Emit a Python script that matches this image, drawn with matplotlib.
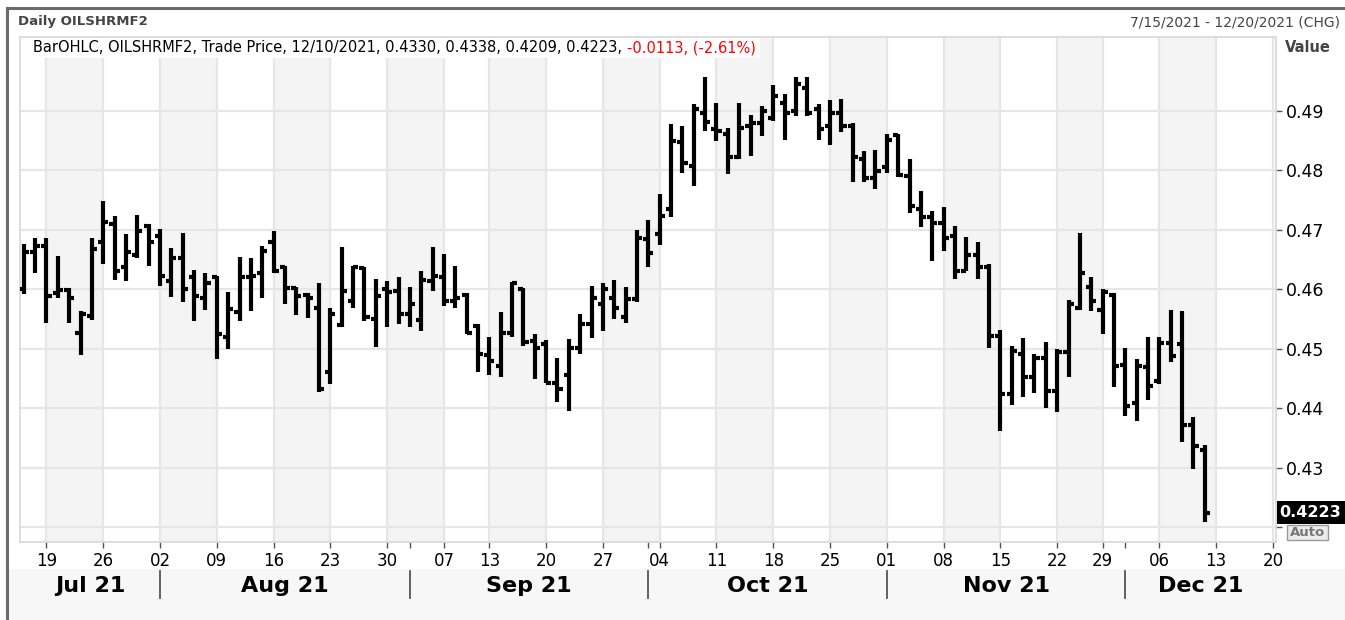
import matplotlib
matplotlib.use("Agg")
import matplotlib.pyplot as plt
import matplotlib.transforms as mtransforms
from matplotlib.patches import Rectangle
from matplotlib.lines import Line2D
import numpy as np
import pandas as pd

W_PX, H_PX = 1345, 620

# trading calendar, US exchange closed on Labor Day and Thanksgiving
holidays = pd.to_datetime(["2021-09-06", "2021-11-25"])
days = pd.bdate_range("2021-07-15", "2021-12-20")
days = days[~days.isin(holidays)]

opens = [0.4600, 0.4663, 0.4673, 0.4593, 0.4599, 0.4527, 0.4555, 0.4680, 0.4710, 0.4638,
         0.4658, 0.4707, 0.4690, 0.4614, 0.4652, 0.4620, 0.4586, 0.4620, 0.4519, 0.4561,
         0.4620, 0.4628, 0.4680, 0.4638, 0.4602, 0.4591, 0.4569, 0.4460, 0.4540, 0.4581,
         0.4636, 0.4550, 0.4600, 0.4597, 0.4558, 0.4548, 0.4614, 0.4620, 0.4581, 0.4590,
         0.4539, 0.4490, 0.4471, 0.4527, 0.4600, 0.4513, 0.4508, 0.4443, 0.4455, 0.4502,
         0.4541, 0.4576, 0.4586, 0.4554, 0.4584, 0.4684, 0.4693, 0.4735, 0.4847, 0.4808,
         0.4897, 0.4869, 0.4861, 0.4822, 0.4875, 0.4880, 0.4888, 0.4914, 0.4900, 0.4939,
         0.4903, 0.4875, 0.4897, 0.4875, 0.4819, 0.4787, 0.4805, 0.4860, 0.4791, 0.4735,
         0.4721, 0.4712, 0.4690, 0.4631, 0.4658, 0.4637, 0.4522, 0.4424, 0.4491, 0.4452,
         0.4485, 0.4429, 0.4494, 0.4569, 0.4604, 0.4565, 0.4591, 0.4473, 0.4408, 0.4470,
         0.4446, 0.4509, 0.4508, 0.4371, 0.4330]
highs = [0.4676, 0.4687, 0.4686, 0.4656, 0.4602, 0.4564, 0.4686, 0.4748, 0.4724, 0.4693,
         0.4725, 0.4710, 0.4701, 0.4670, 0.4694, 0.4632, 0.4628, 0.4623, 0.4595, 0.4655,
         0.4652, 0.4673, 0.4698, 0.4639, 0.4604, 0.4593, 0.4610, 0.4569, 0.4672, 0.4639,
         0.4638, 0.4617, 0.4614, 0.4620, 0.4604, 0.4630, 0.4672, 0.4660, 0.4640, 0.4593,
         0.4542, 0.4519, 0.4561, 0.4613, 0.4602, 0.4525, 0.4515, 0.4484, 0.4516, 0.4559,
         0.4606, 0.4611, 0.4615, 0.4604, 0.4699, 0.4716, 0.4760, 0.4878, 0.4875, 0.4911,
         0.4957, 0.4914, 0.4872, 0.4914, 0.4894, 0.4908, 0.4944, 0.4928, 0.4957, 0.4957,
         0.4911, 0.4918, 0.4921, 0.4880, 0.4833, 0.4834, 0.4862, 0.4862, 0.4819, 0.4766,
         0.4732, 0.4739, 0.4707, 0.4688, 0.4679, 0.4643, 0.4531, 0.4505, 0.4518, 0.4491,
         0.4512, 0.4499, 0.4582, 0.4695, 0.4620, 0.4600, 0.4593, 0.4501, 0.4483, 0.4519,
         0.4519, 0.4565, 0.4564, 0.4385, 0.4338]
lows = [0.4592, 0.4627, 0.4543, 0.4586, 0.4543, 0.4490, 0.4548, 0.4642, 0.4615, 0.4614,
        0.4652, 0.4640, 0.4606, 0.4587, 0.4578, 0.4546, 0.4565, 0.4483, 0.4499, 0.4547,
        0.4563, 0.4586, 0.4628, 0.4575, 0.4557, 0.4552, 0.4428, 0.4441, 0.4537, 0.4568,
        0.4546, 0.4503, 0.4536, 0.4542, 0.4536, 0.4530, 0.4597, 0.4572, 0.4568, 0.4525,
        0.4460, 0.4456, 0.4452, 0.4519, 0.4504, 0.4449, 0.4442, 0.4410, 0.4396, 0.4491,
        0.4518, 0.4530, 0.4550, 0.4543, 0.4578, 0.4638, 0.4675, 0.4721, 0.4796, 0.4774,
        0.4866, 0.4849, 0.4794, 0.4819, 0.4824, 0.4858, 0.4884, 0.4852, 0.4892, 0.4892,
        0.4852, 0.4843, 0.4864, 0.4781, 0.4780, 0.4768, 0.4795, 0.4789, 0.4729, 0.4705,
        0.4648, 0.4665, 0.4617, 0.4630, 0.4617, 0.4502, 0.4362, 0.4406, 0.4418, 0.4425,
        0.4401, 0.4393, 0.4452, 0.4565, 0.4563, 0.4525, 0.4435, 0.4386, 0.4378, 0.4414,
        0.4441, 0.4477, 0.4343, 0.4298, 0.4209]
closes = [0.4663, 0.4673, 0.4589, 0.4599, 0.4586, 0.4559, 0.4668, 0.4713, 0.4630, 0.4662,
          0.4698, 0.4679, 0.4623, 0.4652, 0.4600, 0.4589, 0.4611, 0.4525, 0.4567, 0.4620,
          0.4623, 0.4665, 0.4631, 0.4602, 0.4589, 0.4586, 0.4432, 0.4558, 0.4597, 0.4638,
          0.4554, 0.4589, 0.4596, 0.4558, 0.4575, 0.4615, 0.4623, 0.4581, 0.4586, 0.4527,
          0.4491, 0.4480, 0.4527, 0.4611, 0.4511, 0.4502, 0.4443, 0.4432, 0.4502, 0.4541,
          0.4586, 0.4600, 0.4568, 0.4584, 0.4687, 0.4661, 0.4724, 0.4850, 0.4813, 0.4903,
          0.4882, 0.4866, 0.4822, 0.4872, 0.4880, 0.4900, 0.4925, 0.4897, 0.4946, 0.4897,
          0.4869, 0.4897, 0.4875, 0.4823, 0.4788, 0.4799, 0.4852, 0.4792, 0.4740, 0.4721,
          0.4712, 0.4687, 0.4631, 0.4658, 0.4637, 0.4522, 0.4424, 0.4497, 0.4452, 0.4485,
          0.4429, 0.4494, 0.4575, 0.4628, 0.4581, 0.4596, 0.4471, 0.4403, 0.4471, 0.4438,
          0.4509, 0.4487, 0.4371, 0.4336, 0.4223]

y_ticks = [0.42, 0.43, 0.44, 0.45, 0.46, 0.47, 0.48, 0.49]
last_value = "0.4223"
title = "Daily OILSHRMF2"
date_range = "7/15/2021 - 12/20/2021 (CHG)"
legend_black = "BarOHLC, OILSHRMF2, Trade Price, 12/10/2021, 0.4330, 0.4338, 0.4209, 0.4223, "
legend_red = "-0.0113, (-2.61%)"


def fx(px):
    return px / W_PX


def fy(py):
    return 1 - py / H_PX


plt.rcParams["font.family"] = ["DejaVu Sans"]

fig = plt.figure(figsize=(W_PX / 100, H_PX / 100), dpi=100)
fig.patch.set_facecolor("white")

# grey strip under the date axis
fig.add_artist(Rectangle((fx(7), 0), 1, fy(569), transform=fig.transFigure,
                         facecolor="#f7f7f7", edgecolor="none", zorder=0))

ax_l, ax_r, ax_t, ax_b = 20, 1276, 37, 542
ax = fig.add_axes([fx(ax_l), fy(ax_b), fx(ax_r - ax_l), (ax_b - ax_t) / H_PX])

pos = np.arange(len(days))
week_start = [i for i in range(1, len(days)) if days[i].isocalendar()[1] != days[i - 1].isocalendar()[1]]
month_start = [i for i in range(1, len(days)) if days[i].month != days[i - 1].month]

# alternating weekly shading
for k in range(len(week_start) - 1):
    if k % 2 == 0:
        ax.axvspan(week_start[k], week_start[k + 1], color="#f4f4f4", lw=0, zorder=0)
for w in week_start:
    ax.axvline(w, color="#e6e6e6", lw=1.6, zorder=1)
for v in y_ticks:
    ax.axhline(v, color="#e6e6e6", lw=1.6, zorder=1)

# OHLC bars
x = pos[:len(opens)]
ax.vlines(x, lows, highs, color="black", lw=3.0, zorder=3)
ax.hlines(opens, x - 0.45, x, color="black", lw=3.0, zorder=3)
ax.hlines(closes, x, x + 0.45, color="black", lw=3.0, zorder=3)

ax.set_xlim(-0.33, 110.27)
ax.set_ylim(0.41748, 0.50245)

for s in ax.spines.values():
    s.set_color("#d8d8d8")
    s.set_linewidth(1.2)

ax.yaxis.tick_right()
ax.set_yticks(y_ticks)
ax.set_yticklabels([""] + [f"{v:.2f}" for v in y_ticks[1:]])
ax.tick_params(axis="y", length=4, width=1, color="#555555", pad=3,
               labelsize=12.5, labelcolor="black")

ax.set_xticks(week_start)
ax.set_xticklabels([days[i].strftime("%d") for i in week_start])
ax.set_xticks(month_start, minor=True)
ax.tick_params(axis="x", which="both", length=4, width=1, color="#555555", pad=3)
ax.tick_params(axis="x", which="major", labelsize=12)

# month labels and separators
trans = mtransforms.blended_transform_factory(ax.transData, ax.transAxes)
xmin, xmax = ax.get_xlim()
edges = [xmin] + month_start + [xmax]
for a, b in zip(edges[:-1], edges[1:]):
    ax.text((a + b) / 2, -(586 - ax_b) / (ax_b - ax_t), days[int(np.ceil(a))].strftime("%b %y"),
            transform=trans, ha="center", va="center", fontsize=16, fontweight="bold",
            clip_on=False)
for m in month_start:
    ax.add_line(Line2D([m, m], [-(571 - ax_b) / (ax_b - ax_t), -(598 - ax_b) / (ax_b - ax_t)],
                       transform=trans, color="#555555", lw=1.3, clip_on=False))

# outer frame
fig.add_artist(Line2D([fx(7), 1], [fy(8), fy(8)], color="#6b6b6b", lw=2.2))
fig.add_artist(Line2D([fx(7), fx(7)], [fy(8), 0], color="#6b6b6b", lw=2.2))

fig.text(fx(18), fy(22), title, fontsize=9.5, fontweight="bold", color="#444444",
         ha="left", va="center")
fig.text(fx(1340), fy(22), date_range, fontsize=10, color="#444444", ha="right", va="center")
fig.text(fx(1285), fy(48), "Value", fontsize=10.5, fontweight="bold", color="#444444",
         ha="left", va="center")

# legend box with the last bar's values
fig.add_artist(Rectangle((fx(21), fy(58)), fx(739), (58 - 38) / H_PX, transform=fig.transFigure,
                         facecolor="white", edgecolor="none", zorder=4))
t1 = fig.text(fx(33), fy(48), legend_black, fontsize=10.5, color="black", ha="left",
              va="center", zorder=5)
t2 = fig.text(fx(600), fy(48), legend_red, fontsize=10.5, color="red", ha="left",
              va="center", zorder=5)
fig.canvas.draw()
bb = t1.get_window_extent()
t2.set_x(bb.x1 / W_PX)

# last value box and Auto button
fig.add_artist(Rectangle((fx(1277), fy(524)), 1, 23 / H_PX, transform=fig.transFigure,
                         facecolor="black", edgecolor="none", zorder=5))
fig.text(fx(1279), fy(512.5), last_value, fontsize=11.5, fontweight="bold", color="white",
         ha="left", va="center", zorder=6)
fig.add_artist(Rectangle((fx(1287), fy(540)), fx(41), 15 / H_PX, transform=fig.transFigure,
                         facecolor="#ececec", edgecolor="#999999", lw=1, zorder=5))
fig.text(fx(1307.5), fy(532.5), "Auto", fontsize=9.5, fontweight="bold", color="#777777",
         ha="center", va="center", zorder=6)

fig.savefig("out.png", dpi=100)
